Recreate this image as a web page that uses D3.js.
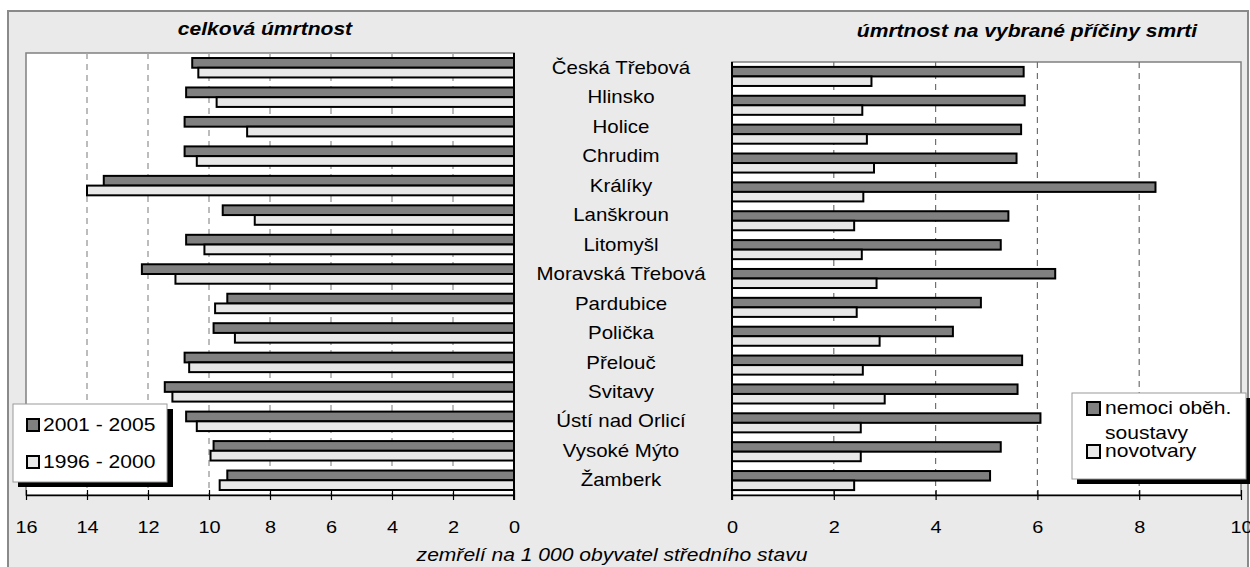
<!DOCTYPE html>
<html lang="cs">
<head>
<meta charset="UTF-8">
<title>Úmrtnost</title>
<script src="https://d3js.org/d3.v7.min.js"></script>
<style>
  body { margin: 0; background: #fff; }
  svg text { font-family: "Liberation Sans", Arial, sans-serif; fill: #000; }
</style>
</head>
<body>
<div id="chart"></div>
<script>
// data
const cities = ["Česká Třebová", "Hlinsko", "Holice", "Chrudim", "Králíky", "Lanškroun", "Litomyšl",
    "Moravská Třebová", "Pardubice", "Polička", "Přelouč", "Svitavy", "Ústí nad Orlicí", "Vysoké Mýto", "Žamberk"];
const total2005 = [10.55, 10.75, 10.8, 10.8, 13.45, 9.55, 10.75, 12.2, 9.4, 9.85, 10.8, 11.45, 10.75, 9.85, 9.4];
const total2000 = [10.35, 9.75, 8.75, 10.4, 14.0, 8.5, 10.15, 11.1, 9.8, 9.15, 10.65, 11.2, 10.4, 9.95, 9.65];
const circulatory = [5.73, 5.75, 5.68, 5.59, 8.32, 5.43, 5.28, 6.35, 4.89, 4.34, 5.7, 5.61, 6.06, 5.28, 5.07];
const neoplasms = [2.74, 2.56, 2.65, 2.79, 2.58, 2.4, 2.55, 2.84, 2.45, 2.9, 2.57, 3.0, 2.53, 2.53, 2.4];
const leftTicks = [16, 14, 12, 10, 8, 6, 4, 2, 0];
const rightTicks = [0, 2, 4, 6, 8, 10];
const leftLegend = ["2001 - 2005", "1996 - 2000"];
const rightLegend = [["nemoci oběh.", "soustavy"], ["novotvary"]];

const W = 1250, H = 567;
const dark = "#808080", light = "#e8e8e8", bg = "#eaeaea";
const SX = 1.17; // text in the picture is a bit wider than tall

const svg = d3.select("#chart").append("svg")
    .attr("width", W).attr("height", H);

svg.append("rect").attr("width", W).attr("height", H).attr("fill", "#fff");
svg.append("rect")
    .attr("x", 8).attr("y", 11).attr("width", 1240).attr("height", H)
    .attr("fill", bg).attr("stroke", "#8a8a8a").attr("stroke-width", 2);

function label(x, y, txt, size, style) {
    const t = svg.append("text")
        .attr("transform", `translate(${x},${y}) scale(${SX},1)`)
        .style("font-size", size + "px")
        .text(txt);
    if (style) Object.entries(style).forEach(([k, v]) => t.style(k, v));
    return t;
}

// scales
const xL = d3.scaleLinear().domain([0, 16]).range([514, 26]);
const yL = d3.scaleBand().domain(cities).range([53, 495]).paddingInner(0.34).paddingOuter(0.17);
const xR = d3.scaleLinear().domain([0, 10]).range([732, 1241]);
const yR = d3.scaleBand().domain(cities).range([62, 495]).paddingInner(0.34).paddingOuter(0.17);

// plot areas
svg.append("rect").attr("x", 26).attr("y", 53).attr("width", 488).attr("height", 442)
    .attr("fill", "#fff").attr("stroke", "#808080").attr("stroke-width", 1.5);
svg.append("rect").attr("x", 732).attr("y", 62).attr("width", 509).attr("height", 433)
    .attr("fill", "#fff").attr("stroke", "#808080").attr("stroke-width", 1.5);

// gridlines
svg.append("g").selectAll("line")
    .data(leftTicks.filter(d => d > 0 && d < 16))
    .join("line")
    .attr("x1", d => xL(d)).attr("x2", d => xL(d))
    .attr("y1", 53).attr("y2", 495)
    .attr("stroke", "#a6a6a6").attr("stroke-width", 1.5).attr("stroke-dasharray", "6,5");
svg.append("g").selectAll("line")
    .data(rightTicks.filter(d => d > 0 && d < 10))
    .join("line")
    .attr("x1", d => xR(d)).attr("x2", d => xR(d))
    .attr("y1", 62).attr("y2", 495)
    .attr("stroke", "#707070").attr("stroke-width", 1.2).attr("stroke-dasharray", "6,5");

// bars
function drawBars(x, y, series) {
    const h = y.bandwidth() / 2;
    series.forEach(([vals, fill], i) => {
        svg.append("g").selectAll("rect")
            .data(vals)
            .join("rect")
            .attr("x", d => Math.min(x(0), x(d)))
            .attr("width", d => Math.abs(x(d) - x(0)))
            .attr("y", (d, j) => y(cities[j]) + i * h)
            .attr("height", h)
            .attr("fill", fill)
            .attr("stroke", "#000").attr("stroke-width", 2);
    });
}
drawBars(xL, yL, [[total2005, dark], [total2000, light]]);
drawBars(xR, yR, [[circulatory, dark], [neoplasms, light]]);

// category axis lines
svg.append("line").attr("x1", 514).attr("x2", 514).attr("y1", 53).attr("y2", 500)
    .attr("stroke", "#000").attr("stroke-width", 2);
svg.append("line").attr("x1", 732).attr("x2", 732).attr("y1", 62).attr("y2", 500)
    .attr("stroke", "#000").attr("stroke-width", 2);

// value axes
function valueAxis(x, ticks) {
    const g = svg.append("g")
        .attr("transform", "translate(0,495)")
        .call(d3.axisBottom(x).tickValues(ticks).tickFormat(d3.format("d")).tickSizeOuter(0));
    g.select(".domain").attr("stroke", "#000").attr("stroke-width", 1.5);
    g.selectAll(".tick line").attr("y1", -5).attr("y2", 5).attr("stroke", "#000").attr("stroke-width", 1.2);
    g.selectAll(".tick text")
        .attr("y", 26)
        .attr("transform", `scale(${SX},1)`)
        .style("font-size", "17px")
        .style("font-family", '"Liberation Sans", Arial, sans-serif')
        .attr("fill", "#000");
}
valueAxis(xL, leftTicks);
valueAxis(xR, rightTicks);

// city names between the panels
cities.forEach(c => {
    label(621, yL(c) + yL.bandwidth() / 2, c, 17.5)
        .attr("text-anchor", "middle").attr("dy", "0.35em");
});

// titles
label(265, 35, "celková úmrtnost", 18, { "font-weight": "bold", "font-style": "italic" })
    .attr("text-anchor", "middle");
label(1027, 37, "úmrtnost na vybrané příčiny smrti", 18, { "font-weight": "bold", "font-style": "italic" })
    .attr("text-anchor", "middle");
label(612, 561, "zemřelí na 1 000 obyvatel středního stavu", 18, { "font-style": "italic" })
    .attr("text-anchor", "middle");

// legend left
svg.append("rect").attr("x", 18).attr("y", 409).attr("width", 155).attr("height", 78).attr("fill", "#000");
svg.append("rect").attr("x", 13).attr("y", 404).attr("width", 154).attr("height", 78)
    .attr("fill", "#fff").attr("stroke", "#9a9a9a").attr("stroke-width", 1);
[dark, light].forEach((fill, i) => {
    const cy = 425 + i * 37;
    svg.append("rect").attr("x", 27).attr("y", cy - 6).attr("width", 12).attr("height", 12)
        .attr("fill", fill).attr("stroke", "#000").attr("stroke-width", 2);
    label(43, cy, leftLegend[i], 18).attr("dy", "0.35em");
});

// legend right
svg.append("rect").attr("x", 1077).attr("y", 398).attr("width", 175).attr("height", 86).attr("fill", "#000");
svg.append("rect").attr("x", 1072).attr("y", 393).attr("width", 174).attr("height", 86)
    .attr("fill", "#fff").attr("stroke", "#9a9a9a").attr("stroke-width", 1);
[[dark, 408], [light, 451]].forEach(([fill, cy], i) => {
    svg.append("rect").attr("x", 1087).attr("y", cy - 6).attr("width", 13).attr("height", 13)
        .attr("fill", fill).attr("stroke", "#000").attr("stroke-width", 2);
    rightLegend[i].forEach((line, k) => {
        label(1105, cy + k * 25, line, 18).attr("dy", "0.35em");
    });
});
</script>
</body>
</html>
